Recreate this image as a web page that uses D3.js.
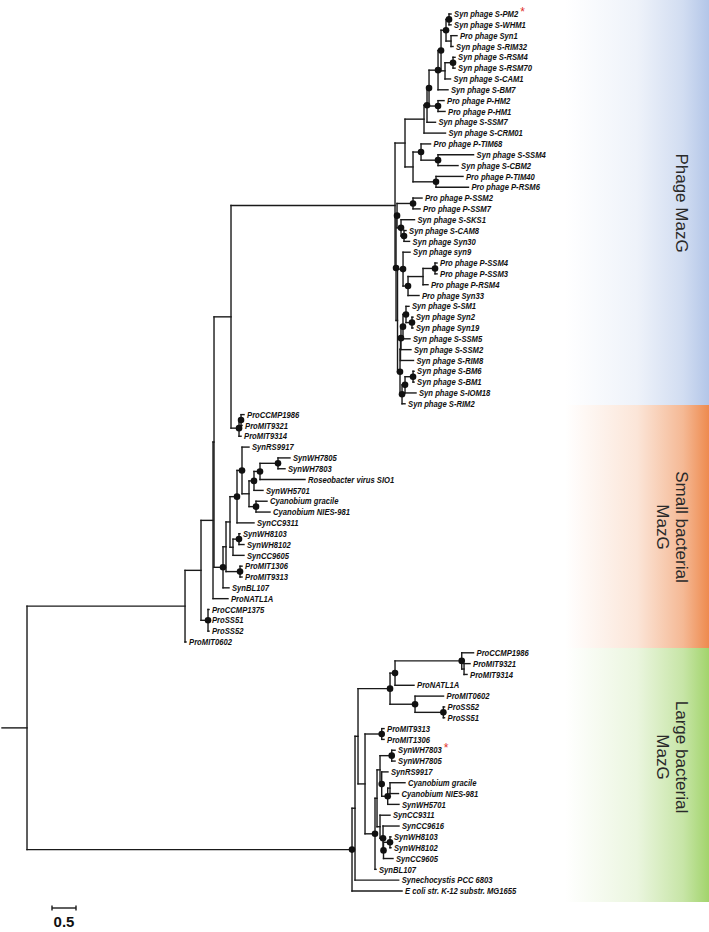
<!DOCTYPE html>
<html><head><meta charset="utf-8">
<script src="https://cdn.jsdelivr.net/npm/d3@7"></script>
<style>body{margin:0;background:#fff}</style>
</head><body>
<svg id="chart" width="709" height="932"></svg>
<script>
// ---- DATA (Newick pieces, branch lengths in substitutions/site; "*" = supported node) ----
const phageUpper = "((((((((Syn phage S-PM2:0.042,Syn phage S-WHM1:0.042)*:0.0625,(Pro phage Syn1:0.125,Syn phage S-RIM32:0.042):0.104)*:0.104,((Syn phage S-RSM4:0.042,Syn phage S-RSM70:0.042)*:0.167,Syn phage S-CAM1:0.115):0.083)*:0.0625,Syn phage S-BM7:0.208)*:0.1875,(Pro phage P-HM2:0.125,Pro phage P-HM1:0.146)*:0.1875)*:0.042,Syn phage S-SSM7:0.177)*:0.0625,Syn phage S-CRM01:0.448):0.396,((Pro phage P-TIM68:0.198,(Syn phage S-SSM4:0.74,Syn phage S-CBM2:0.417)*:0.354)*:0.167,(Pro phage P-TIM40:0.5625,Pro phage P-RSM6:0.677)*:0.479):0.167):0.208";
const phageLower = "(((Pro phage P-SSM2:0.1875,Pro phage P-SSM7:0.146)*:0.333,(Syn phage S-SKS1:0.281,(Syn phage S-CAM8:0.042,Syn phage Syn30:0.115)*:0.0625)*:0.083)*:0.021,((Syn phage syn9:0.146,(((Pro phage P-SSM4:0.042,Pro phage P-SSM3:0.042)*:0.25,Pro phage P-RSM4:0.104):0.3125,Pro phage Syn33:0.229)*:0.104)*:0.115,(((((Syn phage S-SM1:0.0625,(Syn phage Syn2:0.021,Syn phage Syn19:0.021)*:0.125)*:0.0625,Syn phage S-SSM5:0.146)*:0.042,Syn phage S-SSM2:0.208)*:0.01,Syn phage S-RIM8:0.271):0.01,(((Syn phage S-BM6:0.021,Syn phage S-BM1:0.021)*:0.167,Syn phage S-IOM18:0.229)*:0.0625,Syn phage S-RIM2:0.0625)*:0.042)*:0.052):0.031)*:0.021";
const phageStem = 3.417;
const smallCcmpGroup = "((ProCCMP1986:0.0625,ProMIT9321:0.021)*:0.042,ProMIT9314:0.042)*:0.167";
const smallSynGroup = "(((((SynRS9917:0.146,((((SynWH7805:0.25,SynWH7803:0.146)*:0.375,Roseobacter virus SIO1:0.9375)*:0.125,SynWH5701:0.1875)*:0.104,(Cyanobium gracile:0.229,Cyanobium NIES-981:0.292)*:0.146):0.146)*:0.104,SynCC9311:0.354)*:0.146,((SynWH8103:0.021,SynWH8102:0.104)*:0.125,SynCC9605:0.229):0.0625):0.083,(ProMIT1306:0.042,ProMIT9313:0.042)*:0.292):0.0625,SynBL107:0.125)*:0.1875";
const smallHlGroup = "(ProCCMP1375:0.021,ProSS51:0.021,ProSS52:0.021)*:0.146";
const largeClade = "((((((ProCCMP1986:0.246,(ProMIT9321:0.125,ProMIT9314:0.0625):0.048)*:1.39,ProNATL1A:0.396)*:0.104,(ProMIT0602:0.594,(ProSS52:0.025,ProSS51:0.025)*:0.59)*:0.521)*:0.667,((ProMIT9313:0.048,ProMIT1306:0.048)*:0.348,((((SynWH7803:0.069,SynWH7805:0.069)*:0.244,(SynRS9917:0.131,((Cyanobium gracile:0.3125,Cyanobium NIES-981:0.177):0.048,SynWH5701:0.235)*:0.125)*:0.035):0.0625,(SynCC9311:0.208,(SynCC9616:0.333,((SynWH8103:0.021,SynWH8102:0.021)*:0.135,SynCC9605:0.198)*:0.01)*:0.0625):0.0625):0.042,SynBL107:0.021)*:0.208):0.146):0.0625,Synechocystis PCC 6803:0.91):0.0625,E coli str. K-12 substr. MG1655:1.042)*:6.771";
const rootStem = 0.521;

const cladeNames = [["Phage MazG"], ["Small bacterial", "MazG"], ["Large bacterial", "MazG"]];
const cladeColors = ["#b3c6e8", "#ee8a4e", "#a2d46c"];
const redMarks = [["Syn phage S-PM2", 1], ["SynWH7803", 2]]; // [leaf name, occurrence]
const scaleBarValue = 0.5;

// ---- BUILD ----
const phageClade = `(${phageUpper},${phageLower}):${phageStem}`;
const upperClade = `(((((${phageClade},${smallCcmpGroup}):0.354,${smallSynGroup}):0.021,ProNATL1A:0.3125):0.25,${smallHlGroup}):0.333,ProMIT0602:0.021):3.292`;
const newick = `(${upperClade},${largeClade}):${rootStem}`;

function parseNewick(s) {
  let i = 0;
  function node() {
    const n = { children: [] };
    if (s[i] === "(") {
      i++;
      n.children.push(node());
      while (s[i] === ",") { i++; n.children.push(node()); }
      i++; // ')'
    }
    let name = "";
    while (i < s.length && !":,);".includes(s[i])) name += s[i++];
    n.name = name.trim();
    if (s[i] === ":") {
      i++;
      let num = "";
      while (i < s.length && !",);".includes(s[i])) num += s[i++];
      n.length = +num;
    } else n.length = 0;
    return n;
  }
  return node();
}

const root = d3.hierarchy(parseNewick(newick), d => d.children.length ? d.children : null);
root.each(d => { d.dist = (d.parent ? d.parent.dist : 0) + d.data.length; });
const leaves = root.leaves();
leaves.forEach((d, i) => d.idx = i);

const x = d3.scaleLinear().domain([0, 1]).range([2, 50]);
const y = d3.scaleLinear().domain([0, leaves.length - 1]).range([14, 891]);

root.eachAfter(d => {
  if (d.children) d.py = (d.children[0].py + d.children[d.children.length - 1].py) / 2;
  else d.py = y(d.idx);
});

const svg = d3.select("#chart");
const defs = svg.append("defs");

// ---- clade bands ----
const bandX0 = 565, bandX1 = 709;
const bandBounds = [[0, 405], [405, 648], [648, 902]];
const labelCenters = [203, 527, 757];
cladeColors.forEach((c, k) => {
  const g = defs.append("linearGradient").attr("id", "grad" + k).attr("x1", 0).attr("x2", 1).attr("y1", 0).attr("y2", 0);
  g.append("stop").attr("offset", "0%").attr("stop-color", c).attr("stop-opacity", 0);
  g.append("stop").attr("offset", "50%").attr("stop-color", c).attr("stop-opacity", 0.22);
  g.append("stop").attr("offset", "82%").attr("stop-color", c).attr("stop-opacity", 0.6);
  g.append("stop").attr("offset", "100%").attr("stop-color", c).attr("stop-opacity", 1);
});
svg.selectAll("rect.band").data(cladeNames).join("rect")
  .attr("class", "band")
  .attr("x", bandX0).attr("width", bandX1 - bandX0)
  .attr("y", (d, k) => bandBounds[k][0])
  .attr("height", (d, k) => bandBounds[k][1] - bandBounds[k][0])
  .attr("fill", (d, k) => `url(#grad${k})`);

const lineH = 19;
const clab = svg.selectAll("text.clab").data(cladeNames).join("text")
  .attr("class", "clab")
  .attr("transform", (d, k) => `translate(${682 - (d.length - 1) * lineH / 2},${labelCenters[k]}) rotate(90)`)
  .attr("text-anchor", "middle")
  .style("font-family", "'Liberation Sans', Arial, sans-serif")
  .style("font-size", "17px")
  .style("fill", "#2a2a2a");
clab.selectAll("tspan").data(d => d.map((t, j) => ({ t, j, n: d.length }))).join("tspan")
  .attr("x", 0)
  .attr("y", d => (d.j - (d.n - 1) / 2) * lineH)
  .attr("dy", "0.35em")
  .text(d => d.t);

// ---- tree branches ----
const stroke = "#1a1a1a";
const treeG = svg.append("g").attr("fill", "none").attr("stroke", stroke).attr("stroke-width", 1.4).attr("stroke-linecap", "square");
const nodes = root.descendants();
treeG.selectAll("path.h").data(nodes).join("path")
  .attr("class", "h")
  .attr("d", d => `M${x(d.parent ? d.parent.dist : 0)},${d.py}H${x(d.dist)}`);
treeG.selectAll("path.v").data(nodes.filter(d => d.children)).join("path")
  .attr("class", "v")
  .attr("d", d => `M${x(d.dist)},${d.children[0].py}V${d.children[d.children.length - 1].py}`);

// support dots
svg.append("g").selectAll("circle").data(nodes.filter(d => d.children && d.data.name === "*")).join("circle")
  .attr("cx", d => x(d.dist)).attr("cy", d => d.py).attr("r", 3.3).attr("fill", "#111");

// ---- leaf labels ----
const lab = svg.append("g").selectAll("text").data(leaves).join("text")
  .attr("transform", d => `translate(${x(d.dist) + 3},${d.py}) scale(0.85,1)`)
  .attr("dy", "0.35em")
  .style("font-family", "'Liberation Sans', Arial, sans-serif")
  .style("font-size", "9px")
  .style("font-weight", "bold")
  .style("font-style", "italic")
  .style("fill", "#111")
  .text(d => d.data.name);

// red asterisks
const seen = {};
lab.each(function (d) {
  const nm = d.data.name;
  seen[nm] = (seen[nm] || 0) + 1;
  const m = redMarks.find(r => r[0] === nm && r[1] === seen[nm]);
  if (m) {
    const w = this.getComputedTextLength() * 0.85;
    svg.append("text")
      .attr("x", x(d.dist) + 3 + w + 2).attr("y", d.py + 2)
      .style("font-family", "'Liberation Sans', Arial, sans-serif")
      .style("font-size", "12px")
      .style("fill", "#e0302a")
      .text("*");
  }
});

// ---- scale bar ----
const sbX = 52, sbY = 908;
const sbW = x(scaleBarValue) - x(0);
const sb = svg.append("g").attr("stroke", stroke).attr("stroke-width", 1.4);
sb.append("line").attr("x1", sbX).attr("x2", sbX + sbW).attr("y1", sbY).attr("y2", sbY);
sb.append("line").attr("x1", sbX).attr("x2", sbX).attr("y1", sbY - 2.5).attr("y2", sbY + 2.5);
sb.append("line").attr("x1", sbX + sbW).attr("x2", sbX + sbW).attr("y1", sbY - 2.5).attr("y2", sbY + 2.5);
svg.append("text").attr("x", sbX + sbW / 2).attr("y", 927).attr("text-anchor", "middle")
  .style("font-family", "'Liberation Sans', Arial, sans-serif")
  .style("font-size", "15px").style("font-weight", "bold").style("fill", "#111")
  .text(String(scaleBarValue));
</script>
</body></html>
